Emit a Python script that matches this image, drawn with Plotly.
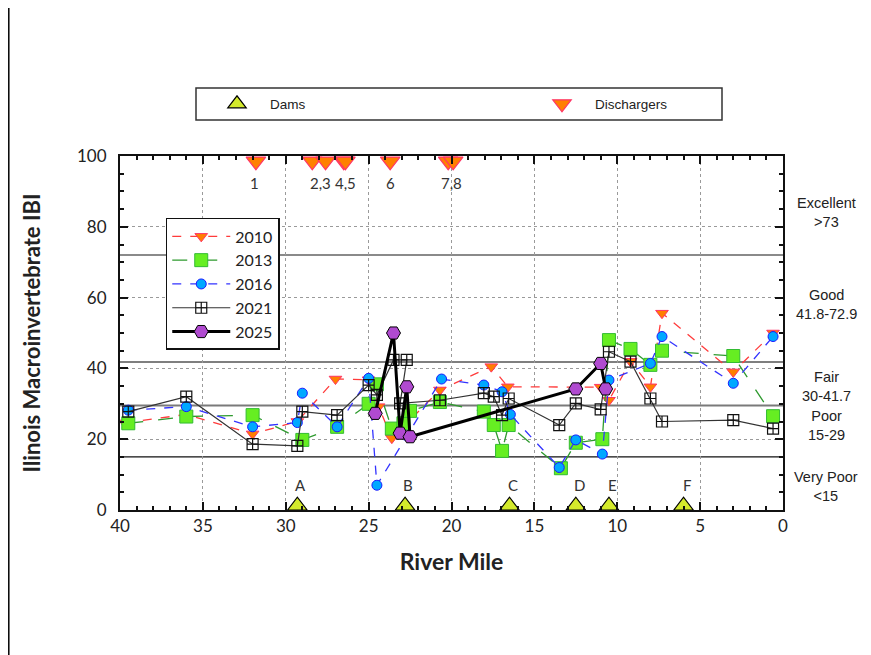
import plotly.graph_objects as go

# ---------------- data ----------------
miles_2010 = [39.7, 36.0, 32.0, 29.3, 27.0, 25.0, 24.4, 23.6, 20.7, 17.6, 16.6, 11.0, 10.5, 9.2, 8.0, 7.3, 3.0, 0.6]
ibi_2010 = [24.6, 27.0, 21.5, 25.0, 37.0, 36.8, 29.2, 20.3, 33.9, 40.5, 34.8, 34.7, 31.0, 42.0, 34.8, 55.6, 39.0, 50.0]

miles_2013 = [39.5, 36.0, 32.0, 29.0, 26.9, 25.0, 24.5, 23.6, 22.9, 22.5, 20.7, 18.05, 17.45, 16.95, 16.55, 13.4, 12.5, 10.9, 10.5, 9.2, 8.0, 7.3, 3.0, 0.6]
ibi_2013 = [24.5, 26.4, 26.8, 19.8, 23.5, 30.0, 35.5, 23.0, 24.5, 28.0, 30.5, 27.8, 24.0, 16.7, 24.0, 11.8, 19.0, 20.0, 48.0, 45.5, 41.0, 45.0, 43.5, 26.5]

miles_2016 = [39.5, 36.0, 32.0, 29.3, 29.0, 26.9, 25.0, 24.5, 20.6, 18.05, 16.95, 16.45, 13.5, 12.5, 10.9, 10.5, 8.0, 7.3, 3.0, 0.6]
ibi_2016 = [28.2, 29.2, 23.5, 24.7, 33.0, 23.5, 37.2, 7.0, 37.0, 35.3, 33.4, 27.0, 12.0, 19.8, 15.8, 36.7, 41.4, 49.0, 35.8, 49.0]

miles_2021 = [39.5, 36.0, 32.0, 29.3, 29.0, 26.9, 25.0, 24.5, 23.5, 22.7, 23.1, 20.7, 18.05, 17.45, 16.95, 16.55, 13.5, 12.5, 11.0, 10.5, 9.2, 8.0, 7.3, 3.0, 0.6]
ibi_2021 = [27.8, 32.0, 18.6, 18.1, 27.8, 26.8, 35.3, 32.5, 42.4, 42.4, 30.1, 31.0, 33.0, 32.0, 26.8, 31.5, 24.0, 30.1, 28.4, 44.7, 41.9, 31.5, 25.0, 25.4, 23.0]

miles_2025 = [24.6, 23.5, 23.1, 22.7, 22.5, 12.5, 11.0, 10.7]
ibi_2025 = [27.3, 50.0, 21.7, 34.8, 20.7, 34.2, 41.4, 34.2]

dam_miles = [29.3, 22.8, 16.5, 12.5, 10.5, 6.0]
dam_labels = ["A", "B", "C", "D", "E", "F"]
dam_y = 1.2

discharger_miles = [31.8, 28.4, 27.6, 26.5, 26.4, 23.7, 20.2, 19.9]
discharger_y = 98.5
discharger_label_miles = [31.9, 27.9, 26.4, 23.7, 20.0]
discharger_labels = ["1", "2,3", "4,5", "6", "7,8"]

thresholds = [72.0, 41.8, 29.5, 15.0]
class_labels = ["Excellent<br>>73", "Good<br>41.8-72.9", "Fair<br>30-41.7", "Poor<br>15-29", "Very Poor<br><15"]
class_label_y = [84.0, 58.0, 35.0, 24.0, 6.7]

x_ticks = [40, 35, 30, 25, 20, 15, 10, 5, 0]
y_ticks = [0, 20, 40, 60, 80, 100]

FONT = "Lato"
ML, MT, PW, PH = 112, 148, 663, 354   # figure-pixel geometry of plot area


def px_x(px):
    return (px - ML) / PW


def px_y(py):
    return 1 - (py - MT) / PH


fig = go.Figure()

# threshold lines
thr_styles = [("#8a8a8a", 2), ("#555555", 1.5), ("#7a7a7a", 2), ("#111111", 1.2)]
for t, (c, w) in zip(thresholds, thr_styles):
    fig.add_shape(type="line", xref="x", yref="y", x0=40, x1=0, y0=t, y1=t,
                  line=dict(color=c, width=w), layer="below")

fig.add_trace(go.Scatter(
    x=miles_2010, y=ibi_2010, name="2010", mode="lines+markers",
    line=dict(color="#ff3b3b", width=1.3, dash="dash"),
    marker=dict(symbol="triangle-down", size=11, color="#ff7f00", line=dict(color="#ff3366", width=1)),
    legend="legend"))
fig.add_trace(go.Scatter(
    x=miles_2013, y=ibi_2013, name="2013", mode="lines+markers",
    line=dict(color="#2e9a2e", width=1.3, dash="longdash"),
    marker=dict(symbol="square", size=13, color="#66ee22", line=dict(color="#33bb33", width=1)),
    legend="legend"))
fig.add_trace(go.Scatter(
    x=miles_2016, y=ibi_2016, name="2016", mode="lines+markers",
    line=dict(color="#3333ff", width=1.3, dash="dash"),
    marker=dict(symbol="circle", size=10, color="#00a8ff", line=dict(color="#1a1aff", width=1)),
    legend="legend"))
fig.add_trace(go.Scatter(
    x=miles_2021, y=ibi_2021, name="2021", mode="lines+markers",
    line=dict(color="#333333", width=1.2),
    marker=dict(symbol="square-cross-open", size=11, color="#111111", line=dict(width=1.2)),
    legend="legend"))
fig.add_trace(go.Scatter(
    x=miles_2025, y=ibi_2025, name="2025", mode="lines+markers",
    line=dict(color="#000000", width=3),
    marker=dict(symbol="hexagon2", size=14, color="#b04ad0", line=dict(color="#000000", width=1)),
    legend="legend"))

fig.add_trace(go.Scatter(
    x=dam_miles, y=[dam_y] * len(dam_miles), name="Dams", mode="markers",
    marker=dict(symbol="triangle-up", size=17, color="#d4ea2c", line=dict(color="#000000", width=1.2)),
    cliponaxis=False, legend="legend2"))
fig.add_trace(go.Scatter(
    x=discharger_miles, y=[discharger_y] * len(discharger_miles), name="Dischargers", mode="markers",
    marker=dict(symbol="triangle-down", size=17, color="#ff8000", line=dict(color="#ff3366", width=1.2)),
    cliponaxis=False, legend="legend3"))

for m, lab in zip(dam_miles, dam_labels):
    fig.add_annotation(x=m - 0.2, y=7.2, xref="x", yref="y", text=lab, showarrow=False,
                       font=dict(family=FONT, size=15, color="#333333"))
for m, lab in zip(discharger_label_miles, discharger_labels):
    fig.add_annotation(x=m, y=92.3, xref="x", yref="y", text=lab, showarrow=False,
                       font=dict(family=FONT, size=15, color="#333333"))
for yy, lab in zip(class_label_y, class_labels):
    fig.add_annotation(x=px_x(818), y=yy, xref="paper", yref="y", text=lab, showarrow=False,
                       xanchor="center", yanchor="middle",
                       font=dict(family="Liberation Sans", size=14.5, color="#222222"),
                       align="center")

# box around the Dams / Dischargers key
fig.add_shape(type="rect", xref="paper", yref="paper",
              x0=px_x(188), x1=px_x(714), y0=px_y(112), y1=px_y(80),
              line=dict(color="#333333", width=1.5), fillcolor="white", layer="below")

# outer left border of the picture
fig.add_shape(type="line", xref="paper", yref="paper", x0=px_x(0.8), x1=px_x(0.8), y0=-0.5, y1=1.5,
              line=dict(color="#000000", width=1.5))

fig.update_layout(
    width=863, height=647,
    margin=dict(l=ML, r=863 - ML - PW, t=MT, b=647 - MT - PH),
    paper_bgcolor="white", plot_bgcolor="white",
    font=dict(family=FONT, color="#222222"),
    showlegend=True,
    legend=dict(x=0.069, y=0.825, xanchor="left", yanchor="top",
                bgcolor="white", bordercolor="#111111", borderwidth=1.5,
                font=dict(family=FONT, size=16, color="#222222"),
                itemwidth=58, tracegroupgap=0),
    legend2=dict(x=px_x(196), y=px_y(96), xanchor="left", yanchor="middle",
                 bgcolor="rgba(0,0,0,0)", borderwidth=0, itemwidth=56,
                 font=dict(family="Liberation Sans", size=13.5, color="#222222")),
    legend3=dict(x=px_x(521), y=px_y(96), xanchor="left", yanchor="middle",
                 bgcolor="rgba(0,0,0,0)", borderwidth=0, itemwidth=56,
                 font=dict(family="Liberation Sans", size=13.5, color="#222222")),
    xaxis=dict(range=[40, 0], tickvals=x_ticks, ticks="inside", ticklen=8, tickwidth=2,
               tickcolor="#111111", showline=True, linecolor="#111111", linewidth=2,
               mirror="ticks", showgrid=True, gridcolor="#9a9a9a", griddash="dot", gridwidth=1,
               zeroline=False, tickfont=dict(family=FONT, size=17, color="#222222"),
               minor=dict(dtick=1, ticks="inside", ticklen=4, tickwidth=1.5, tickcolor="#111111",
                          showgrid=False),
               title=dict(text="<b>River Mile</b>", font=dict(family=FONT, size=23, color="#222222"),
                          standoff=18)),
    yaxis=dict(range=[0, 100], tickvals=y_ticks, ticks="inside", ticklen=8, tickwidth=2,
               tickcolor="#111111", showline=True, linecolor="#111111", linewidth=2,
               mirror="ticks", showgrid=True, gridcolor="#9a9a9a", griddash="dot", gridwidth=1,
               zeroline=False, tickfont=dict(family=FONT, size=17, color="#222222"),
               ticklabelstandoff=8,
               minor=dict(dtick=5, ticks="inside", ticklen=4, tickwidth=1.5, tickcolor="#111111",
                          showgrid=False),
               title=dict(text="<b>Ilinois Macroinvertebrate IBI</b>",
                          font=dict(family=FONT, size=22, color="#222222"), standoff=30)),
)

fig.write_html("out.html")
